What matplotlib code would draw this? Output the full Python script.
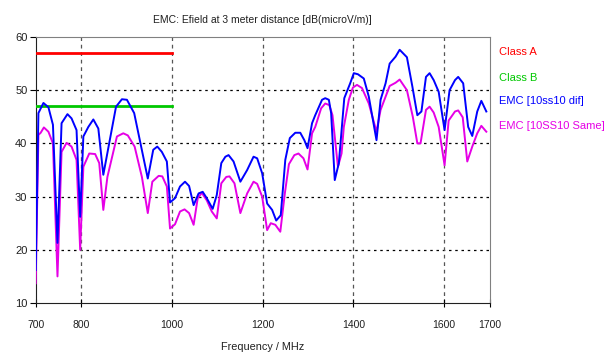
import matplotlib
matplotlib.use("Agg")
import matplotlib.pyplot as plt

# Limit lines (dB(microV/m)) valid from 700 to 1000 MHz
limit_freq = [700, 1000]
class_a = [57, 57]
class_b = [47, 47]

# Measured field strength, 10ss10 dif configuration
dif_freq = [700, 706, 717, 728, 738, 748, 757, 770, 779, 790, 798, 805, 816, 827, 838,
            849, 877, 890, 901, 917, 947, 959, 968, 978, 989, 996, 1007, 1018, 1029,
            1038, 1048, 1059, 1068, 1077, 1090, 1099, 1109, 1118, 1125, 1136, 1151,
            1166, 1180, 1188, 1199, 1210, 1221, 1230, 1240, 1250, 1260, 1272, 1283,
            1292, 1299, 1309, 1316, 1331, 1338, 1346, 1351, 1359, 1368, 1380, 1393,
            1401, 1410, 1423, 1434, 1451, 1460, 1471, 1480, 1493, 1502, 1518, 1530,
            1541, 1550, 1560, 1568, 1577, 1588, 1601, 1612, 1624, 1631, 1642, 1653,
            1662, 1673, 1682, 1693]
dif_level = [16.2, 45.7, 47.6, 46.8, 43.5, 21.3, 43.8, 45.5, 44.7, 42.5, 26.2, 41.3, 43.1,
             44.5, 42.8, 34.1, 46.9, 48.3, 48.2, 45.7, 33.4, 38.8, 39.4, 38.4, 36.6, 28.9,
             29.7, 31.9, 32.8, 32.0, 28.4, 30.6, 30.9, 29.7, 27.7, 30.3, 36.3, 37.5, 37.8,
             36.6, 32.8, 35.0, 37.5, 37.2, 34.4, 28.7, 27.5, 25.5, 26.5, 36.9, 41.0, 42.0,
             42.0, 40.6, 39.1, 43.8, 45.3, 48.2, 48.5, 48.2, 45.7, 33.1, 36.3, 48.5, 51.3,
             53.2, 53.0, 52.2, 48.8, 40.6, 48.2, 51.3, 55.0, 56.3, 57.6, 56.2, 50.7, 45.3,
             46.0, 52.5, 53.2, 51.9, 49.7, 42.5, 50.0, 51.9, 52.5, 51.3, 43.1, 41.4, 46.0,
             48.0, 46.0]

# Measured field strength, 10SS10 Same configuration
same_freq = [700, 706, 711, 718, 728, 738, 748, 757, 768, 779, 790, 798, 805, 818, 831,
             840, 849, 858, 879, 893, 903, 918, 934, 947, 957, 971, 979, 989, 996, 1007,
             1018, 1028, 1038, 1048, 1057, 1066, 1077, 1088, 1099, 1109, 1120, 1127,
             1138, 1151, 1166, 1180, 1188, 1199, 1210, 1218, 1228, 1239, 1249, 1258,
             1270, 1279, 1290, 1299, 1309, 1316, 1329, 1338, 1347, 1354, 1366, 1374,
             1379, 1390, 1399, 1408, 1419, 1434, 1451, 1460, 1480, 1493, 1502, 1518,
             1531, 1541, 1548, 1560, 1568, 1577, 1588, 1601, 1610, 1624, 1631, 1641,
             1651, 1662, 1673, 1682, 1693]
same_level = [13.7, 41.6, 42.0, 43.0, 42.2, 40.0, 15.0, 38.4, 40.1, 39.4, 36.9, 20.0, 35.6,
              38.1, 38.0, 36.3, 27.5, 33.7, 41.3, 41.9, 41.5, 39.4, 33.7, 26.9, 32.8, 33.9,
              33.8, 31.9, 24.0, 24.8, 27.2, 27.6, 26.9, 24.7, 29.7, 30.7, 29.3, 27.2, 25.9,
              32.5, 33.7, 33.8, 32.5, 26.9, 30.6, 32.8, 32.4, 30.0, 23.7, 25.0, 24.7, 23.4,
              30.6, 36.1, 37.8, 38.1, 37.2, 35.1, 41.9, 43.1, 46.6, 47.5, 47.2, 45.3, 35.6,
              38.1, 43.1, 48.2, 50.5, 51.0, 50.4, 47.5, 42.2, 46.3, 50.8, 51.4, 52.0, 50.0,
              45.0, 40.0, 40.0, 46.3, 46.9, 45.8, 43.1, 35.9, 44.3, 46.0, 46.2, 44.9, 36.6,
              39.4, 41.9, 43.3, 42.2]

x_ticks = [700, 800, 1000, 1200, 1400, 1600, 1700]
y_ticks = [10, 20, 30, 40, 50, 60]
series_names = ["Class A", "Class B", "EMC [10ss10 dif]", "EMC [10SS10 Same]"]
series_colors = ["#ff0000", "#00c800", "#0000ff", "#e600e6"]

plt.rcParams["font.family"] = ["Liberation Sans", "DejaVu Sans"]
text_color = "#202020"

W, H = 609, 354
fig = plt.figure(figsize=(W / 100, H / 100), dpi=100)
left, right, top, bottom = 35.7, 489.5, 37, 303
ax = fig.add_axes([left / W, 1 - bottom / H, (right - left) / W, (bottom - top) / H])

ax.plot(limit_freq, class_a, color=series_colors[0], lw=2.0, zorder=3)
ax.plot(limit_freq, class_b, color=series_colors[1], lw=2.0, zorder=3)
ax.plot(same_freq, same_level, color=series_colors[3], lw=1.4, zorder=4)
ax.plot(dif_freq, dif_level, color=series_colors[2], lw=1.4, zorder=5)

ax.set_xlim(700, 1700)
ax.set_ylim(10, 60)
ax.set_xticks(x_ticks)
ax.set_yticks(y_ticks)
ax.tick_params(axis="y", direction="out", length=4, width=0.8, pad=2,
               labelsize=8, labelcolor=text_color)
ax.tick_params(axis="x", direction="inout", length=6, width=0.8, pad=9,
               labelsize=7.5, labelcolor=text_color)

# Grid lines: dotted horizontals, dashed verticals, skipping the frame edges
for yv in y_ticks[1:-1]:
    ax.axhline(yv, color="black", lw=0.9, ls=(0, (2, 3)), zorder=1)
for xv in x_ticks[1:-1]:
    ax.axvline(xv, color="#555555", lw=0.9, ls=(0, (3, 3)), zorder=1)

for side in ("left", "bottom"):
    ax.spines[side].set_color("#202020")
for side in ("top", "right"):
    ax.spines[side].set_color("#808080")

ax.set_title("EMC: Efield at 3 meter distance [dB(microV/m)]", fontsize=7.5,
             pad=10, color=text_color)
ax.set_xlabel("Frequency / MHz", fontsize=7.8, labelpad=9, color=text_color)

# Series names listed to the right of the plot
label_y = [52, 78, 101, 126]
for name, color, yp in zip(series_names, series_colors, label_y):
    fig.text(499 / W, 1 - yp / H, name, color=color, fontsize=8,
             va="center", ha="left")

fig.savefig("out.png", dpi=100)
